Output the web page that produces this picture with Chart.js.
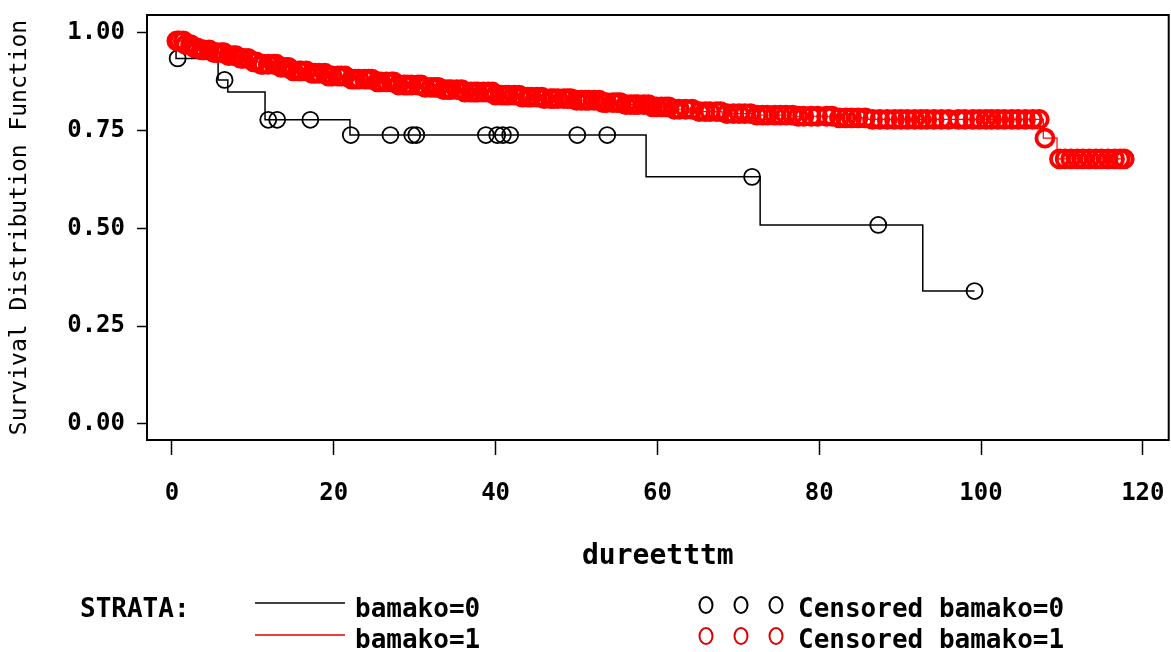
<!DOCTYPE html>
<html>
<head>
<meta charset="utf-8">
<script src="https://cdn.jsdelivr.net/npm/chart.js@4.4.1/dist/chart.umd.min.js"></script>
<style>
html,body{margin:0;padding:0;background:#fff;overflow:hidden}
</style>
</head>
<body>
<canvas id="km" width="1181" height="652"></canvas>
<script>
// ===================== DATOS =====================
const FONT='"DejaVu Sans Mono", monospace';
const xTicks=[0,20,40,60,80,100,120];
const yTicks=[0,0.25,0.5,0.75,1];

// bamako=0 : escalones (tiempo, supervivencia)
const blackT=[0,0.5,5.7,6.9,11.5,22.0,58.6,72.7,92.8,99.2];
const blackS=[1,0.935,0.88,0.849,0.778,0.739,0.632,0.509,0.340,0.340];
const blackCens=[0.7,6.5,11.9,13.0,17.1,22.1,27.0,29.7,30.2,38.8,40.2,40.9,41.8,50.1,53.8,71.7,87.3,99.2];

// bamako=1
const redT=[0,0.5,1.5,2.5,3.5,5,6.5,8,9.6,11,13,15,17,19,22,25,28,31,33,36,40,43,46,50,53,56,59,62,65,68,72,77,82,86,107.7,109.4,117.7];
const redS=[1,0.98,0.97,0.962,0.957,0.95,0.942,0.935,0.926,0.92,0.912,0.903,0.897,0.89,0.882,0.875,0.867,0.861,0.855,0.849,0.841,0.836,0.832,0.828,0.822,0.817,0.811,0.805,0.799,0.794,0.79,0.787,0.783,0.779,0.731,0.678,0.678];
const redCens=[0.6,0.9,1.4,1.7,2.3,2.8,3.1,3.7,4.0,4.6,5.2,5.5,6.1,6.4,7.0,7.6,7.9,8.5,8.8,9.4,10.1,10.4,11.0,11.3,11.9,12.6,12.9,13.5,14.1,14.4,15.0,15.7,16.0,16.6,17.3,17.7,18.2,18.9,19.3,19.8,20.5,20.9,21.4,22.2,22.6,23.1,23.8,24.3,24.7,25.4,25.8,26.5,27.1,27.4,28.0,28.7,29.1,29.6,30.4,30.8,31.3,32.0,32.5,32.9,33.6,34.1,34.5,35.2,35.8,36.2,36.9,37.4,37.8,38.5,39.1,39.6,40.0,40.7,41.2,41.6,42.3,42.9,43.3,44.0,44.4,45.1,45.7,46.0,46.8,47.2,47.7,48.4,48.9,49.3,50.0,50.6,51.1,51.5,52.2,52.8,53.3,53.7,54.5,55.0,55.4,56.1,56.7,57.2,57.6,58.3,58.9,59.4,59.9,60.5,61.0,61.4,62.1,62.7,63.5,64.3,
65.2,65.9,66.5,67.3,67.8,68.6,69.4,70.1,70.8,71.5,72.3,73.0,73.6,74.5,75.2,75.9,76.7,77.4,78.1,79.0,79.8,80.9,81.6,82.5,83.3,84.0,84.8,85.7,86.6,87.5,88.4,89.3,90.1,90.9,91.8,92.6,93.3,94.2,95.1,96.0,97.2,98.0,99.0,99.8,100.6,101.3,102.1,102.9,103.8,104.6,105.5,106.4,107.2,
107.9,109.7,110.4,111.1,111.9,112.6,113.4,114.2,114.9,115.7,116.5,117.2,117.7];

// ===================== HELPERS =====================
function survAt(T,S,t){let v=S[0];for(let i=0;i<T.length;i++){if(T[i]<=t)v=S[i];}return v;}
const pts=(T,S)=>T.map((t,i)=>({x:t,y:S[i]}));
const cens=(C,T,S)=>C.map(t=>({x:t,y:survAt(T,S,t)}));

// marco del área de gráfico
const marco={id:'marco',afterDatasetsDraw(ch){
  const {ctx,chartArea:a}=ch;
  ctx.save();ctx.strokeStyle='#000';ctx.lineWidth=2;
  ctx.strokeRect(a.left,a.top,a.right-a.left,a.bottom-a.top);
  ctx.restore();
}};

// leyenda estilo SAS
const leyenda={id:'leyenda',afterDraw(ch){
  const ctx=ch.ctx;
  ctx.save();
  ctx.font='bold 26px '+FONT;ctx.fillStyle='#000';ctx.textBaseline='middle';ctx.textAlign='left';
  ctx.fillText('STRATA:',80,610);
  ctx.lineWidth=1.5;
  ctx.strokeStyle='#000';ctx.beginPath();ctx.moveTo(255,603);ctx.lineTo(345,603);ctx.stroke();
  ctx.strokeStyle='#e00000';ctx.beginPath();ctx.moveTo(255,635);ctx.lineTo(345,635);ctx.stroke();
  ctx.fillText('bamako=0',355,610);
  ctx.fillText('bamako=1',355,641);
  ctx.lineWidth=2;
  [706,741,776].forEach(x=>{
    ctx.strokeStyle='#000';ctx.beginPath();ctx.ellipse(x,605,6.5,8,0,0,Math.PI*2);ctx.stroke();
    ctx.strokeStyle='#e00000';ctx.beginPath();ctx.ellipse(x,636,6.5,8,0,0,Math.PI*2);ctx.stroke();
  });
  ctx.fillText('Censored bamako=0',798,610);
  ctx.fillText('Censored bamako=1',798,641);
  ctx.restore();
}};

new Chart(document.getElementById('km'),{
  type:'scatter',
  data:{datasets:[
    {label:'bamako=1',data:pts(redT,redS),showLine:true,stepped:'before',borderColor:'#ff0000',borderWidth:1.2,pointRadius:0,order:1},
    {label:'Censored bamako=1',data:cens(redCens,redT,redS),showLine:false,pointStyle:'circle',pointRadius:8.5,pointBorderWidth:3.8,pointBorderColor:'#ff0000',pointBackgroundColor:'rgba(0,0,0,0)',order:0},
    {label:'bamako=0',data:pts(blackT,blackS),showLine:true,stepped:'before',borderColor:'#000',borderWidth:1.5,pointRadius:0,order:2},
    {label:'Censored bamako=0',data:cens(blackCens,blackT,blackS),showLine:false,pointStyle:'circle',pointRadius:8,pointBorderWidth:1.8,pointBorderColor:'#000',pointBackgroundColor:'rgba(0,0,0,0)',order:2}
  ]},
  options:{
    responsive:false,animation:false,
    layout:{padding:{left:0,top:15,right:2,bottom:0}},
    plugins:{legend:{display:false},tooltip:{enabled:false}},
    scales:{
      x:{type:'linear',min:-3.09,max:123.2,
        afterBuildTicks:s=>{s.ticks=xTicks.map(v=>({value:v}));},
        afterFit:s=>{s.height=212;s.paddingLeft=0;s.paddingRight=0;},
        grid:{drawOnChartArea:false,tickLength:15,tickColor:'#000',tickWidth:1.5},
        border:{display:false},
        ticks:{color:'#000',padding:24,font:{family:FONT,size:24,weight:'bold'}},
        title:{display:true,text:'dureetttm',color:'#000',padding:{top:0,bottom:78},font:{family:FONT,size:28,weight:'bold'}}
      },
      y:{type:'linear',min:-0.041,max:1.046,
        afterBuildTicks:s=>{s.ticks=yTicks.map(v=>({value:v}));},
        afterFit:s=>{s.width=147;s.paddingTop=0;s.paddingBottom=0;},
        grid:{drawOnChartArea:false,tickLength:10,tickColor:'#000',tickWidth:1.5},
        border:{display:false},
        ticks:{color:'#000',padding:12,callback:v=>v.toFixed(2),font:{family:FONT,size:24,weight:'bold'}},
        title:{display:true,text:'Survival Distribution Function',color:'#000',padding:{top:6,bottom:0},font:{family:FONT,size:23,weight:'normal'}}
      }
    }
  },
  plugins:[marco,leyenda]
});
</script>
</body>
</html>
